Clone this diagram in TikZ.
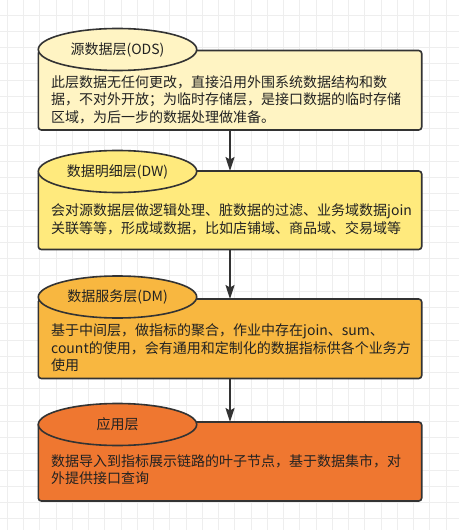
\documentclass[tikz,border=0pt]{standalone}
\usepackage{fontspec}
\setmainfont{Noto Sans CJK SC}
\usetikzlibrary{shapes.geometric,arrows.meta}
\definecolor{gridc}{HTML}{EEEEEE}
\definecolor{edge}{HTML}{333333}
\definecolor{txt}{HTML}{222222}
\definecolor{fillA}{HTML}{FFF4C3}
\definecolor{fillB}{HTML}{FFEA7D}
\definecolor{fillC}{HTML}{F8B740}
\definecolor{fillD}{HTML}{EF7730}
\begin{document}
\begin{tikzpicture}[x=1bp,y=-1bp,
  layerbox/.style={rectangle, draw=edge, line width=1.6bp, rounded corners=3bp,
    minimum width=383.4bp, anchor=north west, inner sep=0, outer sep=0},
  capoval/.style={ellipse, draw=edge, line width=1.6bp, minimum width=158.4bp,
    minimum height=42bp, inner sep=0, outer sep=0, text=txt,
    font=\fontsize{14bp}{17.5bp}\selectfont},
  body/.style={anchor=north west, align=left, inner sep=0, text=txt,
    font=\fontsize{14bp}{17.5bp}\selectfont},
  flow/.style={draw=edge, line width=1.6bp,
    -{Stealth[length=14bp,width=9bp,inset=2.5bp]}}]
\fill[white] (0,0) rectangle (459,530);
\useasboundingbox (0,0) rectangle (459,530);
\foreach \i in {0,...,27}
  \draw[gridc, line width=0.8bp] ({7.3+16.25*\i},0) -- ({7.3+16.25*\i},530);
\foreach \j in {0,...,31}
  \draw[gridc, line width=0.8bp] (0,{15+16.25*\j}) -- (459,{15+16.25*\j});

% layer 1
\node[layerbox, fill=fillA, minimum height=79.5bp] (r1) at (38.3,50.5) {};
\node[capoval, fill=fillA] (e1) at (117.5,49.5) {源数据层(ODS)};
\node[body] (t1) at (51,73) {\rule{0pt}{14bp}此层数据无任何更改，直接沿用外围系统数据结构和数\\
据，不对外开放；为临时存储层，是接口数据的临时存储\\
区域，为后一步的数据处理做准备。};

% layer 2
\node[layerbox, fill=fillB, minimum height=78.5bp] (r2) at (38.3,171) {};
\node[capoval, fill=fillB] (e2) at (117.5,171.5) {数据明细层(DW)};
\node[body] (t2) at (51,201.3) {\rule{0pt}{14bp}会对源数据层做逻辑处理、脏数据的过滤、业务域数据join\\
关联等等，形成域数据，比如店铺域、商品域、交易域等};

% layer 3
\node[layerbox, fill=fillC, minimum height=79.5bp] (r3) at (38.3,299) {};
\node[capoval, fill=fillC] (e3) at (117.5,297) {数据服务层(DM)};
\node[body] (t3) at (51,321.3) {\rule{0pt}{14bp}基于中间层，做指标的聚合，作业中存在join、sum、\\
count的使用，会有通用和定制化的数据指标供各个业务方\\
使用};

% layer 4
\node[layerbox, fill=fillD, minimum height=79bp] (r4) at (38.3,422) {};
\node[capoval, fill=fillD] (e4) at (117.5,424.5) {应用层};
\node[body] (t4) at (51,452) {\rule{0pt}{14bp}数据导入到指标展示链路的叶子节点，基于数据集市，对\\
外提供接口查询};

\draw[flow] (r1.south) -- (r2.north);
\draw[flow] (r2.south) -- (r3.north);
\draw[flow] (r3.south) -- (r4.north);
\end{tikzpicture}
\end{document}
